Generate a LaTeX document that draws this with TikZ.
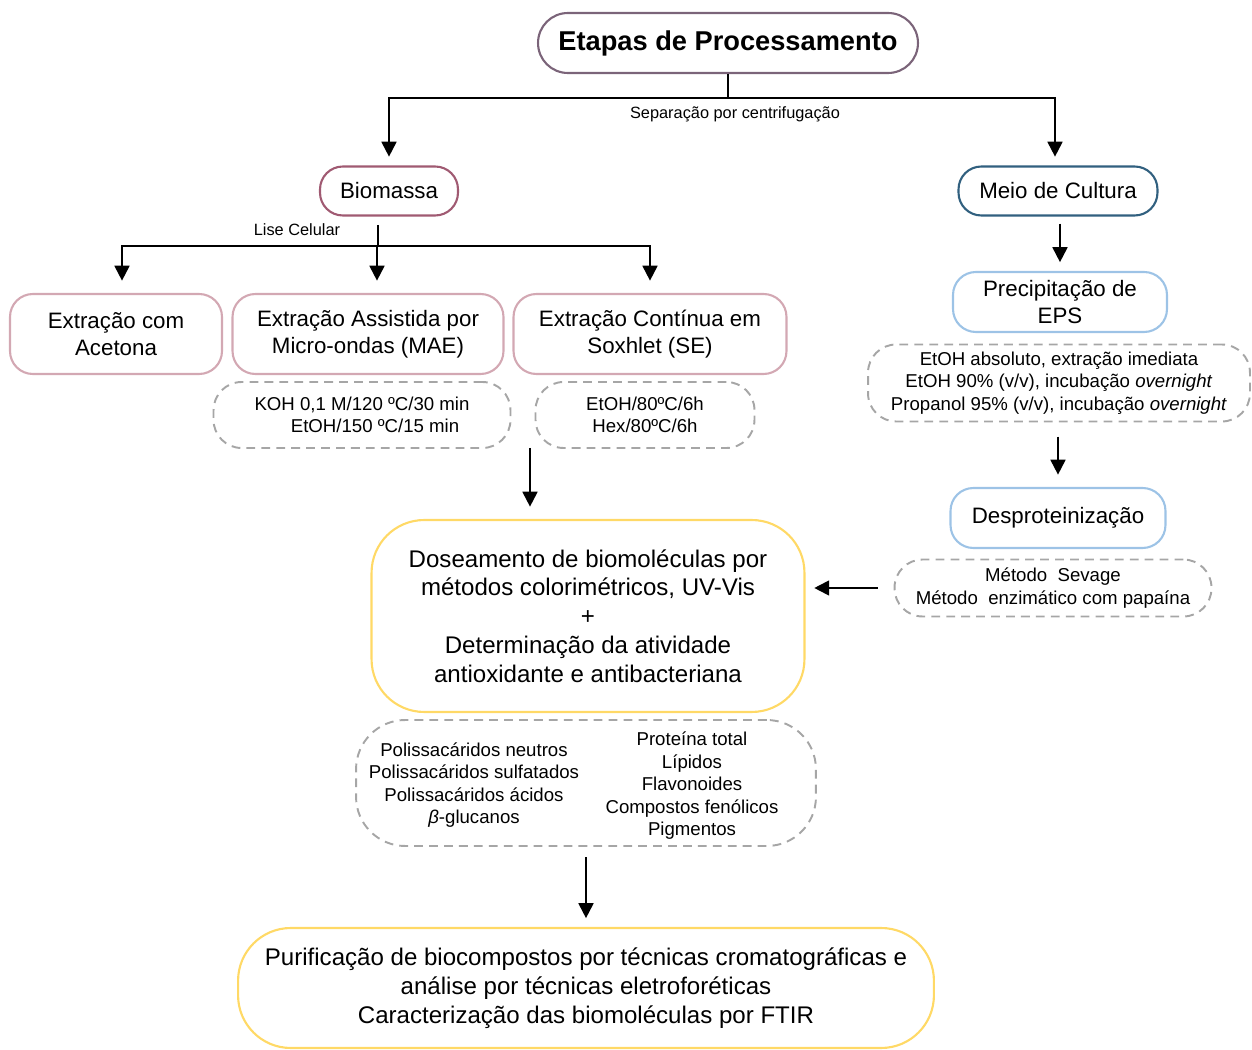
\documentclass[tikz,border=0pt]{standalone}
\usepackage{fontspec}
\setmainfont{Liberation Sans}
\usetikzlibrary{arrows.meta,positioning}

\definecolor{topc}{HTML}{7B6479}
\definecolor{bioc}{HTML}{A05A72}
\definecolor{extc}{HTML}{D3A8B3}
\definecolor{meioc}{HTML}{31607F}
\definecolor{lblue}{HTML}{9DC3E6}
\definecolor{yell}{HTML}{FFD966}
\definecolor{notec}{HTML}{A6A6A6}

\begin{document}
\begin{tikzpicture}[x=0.02cm,y=-0.02cm,
    box/.style={draw,rounded corners=13pt,line width=1.2pt,align=center,inner sep=1pt,
      font=\fontsize{12.7}{15.3}\selectfont},
    note/.style={draw=notec,dash pattern=on 5pt off 3.5pt,rounded corners=16pt,line width=1.1pt,
      align=center,inner sep=1pt,font=\fontsize{10.6}{12.8}\selectfont},
    big/.style={box,draw=yell,rounded corners=30pt,font=\fontsize{13.7}{16.4}\selectfont},
    lbl/.style={font=\fontsize{9.3}{11}\selectfont,inner sep=1pt},
    arr/.style={-{Triangle[length=8.5pt,width=8.5pt]},line width=1.1pt,shorten >=5pt},
    link/.style={line width=1.1pt}]

  \useasboundingbox (0,0) rectangle (1252,1050);

  \node[box,draw=topc,minimum width=7.6cm,minimum height=1.2cm,rounded corners=17pt,
    font=\fontsize{15.5}{18}\selectfont\bfseries] (top) at (728,43) {Etapas de Processamento};

  \node[box,draw=bioc,minimum width=2.76cm,minimum height=0.98cm] (bio) at (389,191) {Biomassa};
  \node[box,draw=meioc,minimum width=3.98cm,minimum height=0.98cm] (meio) at (1058,191) {Meio de Cultura};

  % Extracoes
  \node[box,draw=extc,minimum width=4.24cm,minimum height=1.6cm] (ace) at (116,334) {Extração com\\Acetona};
  \node[box,draw=extc,minimum width=5.42cm,minimum height=1.6cm] (mae) at (368,334) {Extração Assistida por\\Micro-ondas (MAE)};
  \node[box,draw=extc,minimum width=5.46cm,minimum height=1.6cm] (se) at (650,334) {Extração Contínua em\\Soxhlet (SE)};
  \node[note,minimum width=5.94cm,minimum height=1.32cm] (maen) at (362,415) {KOH 0,1 M/120 ºC/30 min\\\hspace{1.4em}EtOH/150 ºC/15 min};
  \node[note,minimum width=4.38cm,minimum height=1.32cm] (sen) at (645,415) {EtOH/80ºC/6h\\Hex/80ºC/6h};

  % Meio de cultura
  \node[box,draw=lblue,minimum width=4.28cm,minimum height=1.2cm] (prec) at (1060,302) {Precipitação de\\EPS};
  \node[note,minimum width=7.64cm,minimum height=1.54cm] (precn) at (1059,383)
    {EtOH absoluto, extração imediata\\EtOH 90\% (v/v), incubação \textit{overnight}\\Propanol 95\% (v/v), incubação \textit{overnight}};
  \node[box,draw=lblue,minimum width=4.3cm,minimum height=1.2cm] (desp) at (1058,518) {Desproteinização};
  \node[note,minimum width=6.34cm,minimum height=1.14cm] (despn) at (1053,588) {Método\ \ Sevage\\Método\ \ enzimático com papaína};

  % Doseamento e purificacao
  \node[big,minimum width=8.66cm,minimum height=3.84cm] (dos) at (588,616)
    {Doseamento de biomoléculas por\\métodos colorimétricos, UV-Vis\\+\\Determinação da atividade\\antioxidante e antibacteriana};
  \node[note,minimum width=9.2cm,minimum height=2.52cm,rounded corners=28pt] (biocn) at (586,783) {};
  \node[note,draw=none] (polis) at (474,785) {Polissacáridos neutros\\Polissacáridos sulfatados\\Polissacáridos ácidos\\\textit{β}-glucanos};
  \node[note,draw=none] (prot) at (692,786) {Proteína total\\Lípidos\\Flavonoides\\Compostos fenólicos\\Pigmentos};
  \node[big,minimum width=13.92cm,minimum height=2.4cm] (pur) at (586,988)
    {Purificação de biocompostos por técnicas cromatográficas e\\análise por técnicas eletroforéticas\\Caracterização das biomoléculas por FTIR};

  % Labels
  \node[lbl] (sepl) at (735,114) {Separação por centrifugação};
  \node[lbl] (lisel) at (297,230) {Lise Celular};

  % Separacao
  \coordinate (sep) at (728,98);
  \draw[link] (top) -- (sep);
  \draw[arr] (sep) -| (bio);
  \draw[arr] (sep) -| ([xshift=-0.06cm]meio.north);

  % Lise celular
  \coordinate (lise0) at (378,225);
  \coordinate (lise) at (378,246);
  \draw[link] (lise0) -- (lise);
  \draw[arr,shorten >=7pt] (lise) -| ([xshift=0.12cm]ace.north);
  \draw[arr,shorten >=7pt] (lise) -| ([xshift=0.18cm]mae.north);
  \draw[arr,shorten >=7pt] (lise) -| (se);

  % Para o doseamento
  \coordinate (ext) at (530,448);
  \draw[arr,shorten >=7pt] (ext) -- (ext |- dos.north);
  \draw[arr,shorten <=4pt] (prec.north |- meio.south) -- (prec);
  \draw[arr,shorten <=8pt,shorten >=7pt] (precn.south -| desp) -- (desp);
  \draw[arr,shorten <=9pt] (despn.west) -- (despn.west -| dos.east);
  \draw[arr,shorten <=6pt] (biocn) -- (pur);

\end{tikzpicture}
\end{document}
